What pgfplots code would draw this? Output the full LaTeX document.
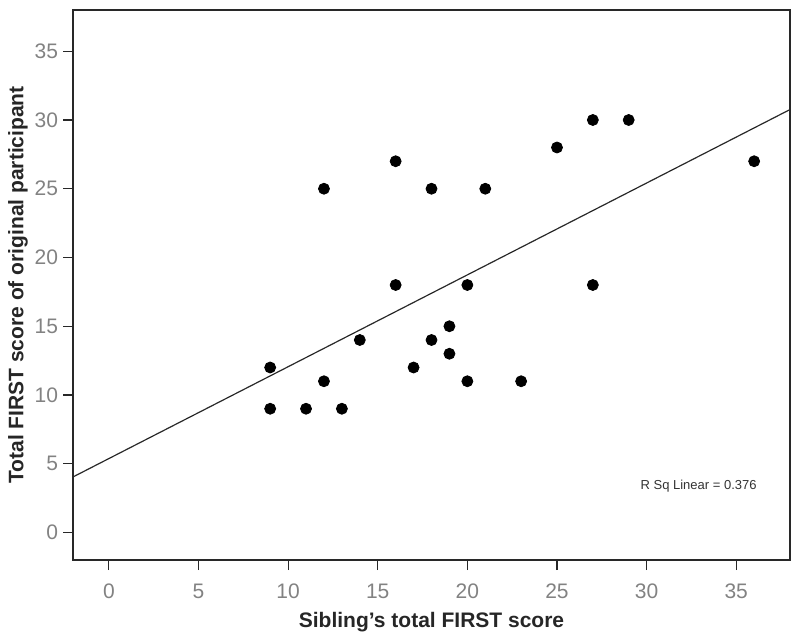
\documentclass[border=0pt]{standalone}
\usepackage{fontspec}
\setmainfont{Liberation Sans}
\usepackage{pgfplots}
\pgfplotsset{compat=1.18}
\definecolor{tickgray}{RGB}{130,130,130}
\definecolor{framegray}{RGB}{40,40,40}
\begin{document}
\begin{tikzpicture}
\begin{axis}[
  scale only axis,
  width=358.5pt, height=275pt,
  xmin=-2, xmax=38, ymin=-2, ymax=38,
  xtick={0,5,...,35}, ytick={0,5,...,35},
  tick align=outside, major tick length=5pt,
  tick style={framegray, line width=0.6pt},
  xtick pos=bottom, ytick pos=left,
  axis line style={framegray, line width=1pt},
  /pgf/number format/assume math mode=true,
  ticklabel style={font=\fontsize{10.5}{12}\selectfont, text=tickgray},
  xticklabel style={yshift=-3.5pt},
  yticklabel style={xshift=1pt},
  xlabel={\textbf{Sibling's total FIRST score}},
  ylabel={\textbf{Total FIRST score of original participant}},
  label style={font=\fontsize{10.5}{12}\selectfont, text=black!85},
  xlabel style={yshift=0pt},
  ylabel style={yshift=-3.5pt},
  clip=true,
]
\addplot[only marks, mark=*, mark size=2.75pt, black] coordinates {
(9,12) (9,9) (11,9) (12,11) (12,25) (13,9) (14,14) (16,27) (16,18) (17,12)
(18,25) (18,14) (19,15) (19,13) (20,18) (20,11) (21,25) (23,11) (25,28)
(27,30) (27,18) (29,30) (36,27)
};
\addplot[framegray, line width=0.6pt] coordinates {(-2,4.04) (38,30.76)};
\node[font=\fontsize{6.5}{8}\selectfont, text=black!80] at (axis cs:32.9,3.4) {R Sq Linear = 0.376};
\coordinate (bl) at (rel axis cs:0,0);
\coordinate (tr) at (rel axis cs:1,1);
\end{axis}
\draw[framegray, line width=1pt] (bl) rectangle (tr);
\pgfresetboundingbox
\path ([xshift=-36.5pt,yshift=-38pt]bl) rectangle ([xshift=5pt,yshift=5pt]tr);
\end{tikzpicture}
\end{document}
